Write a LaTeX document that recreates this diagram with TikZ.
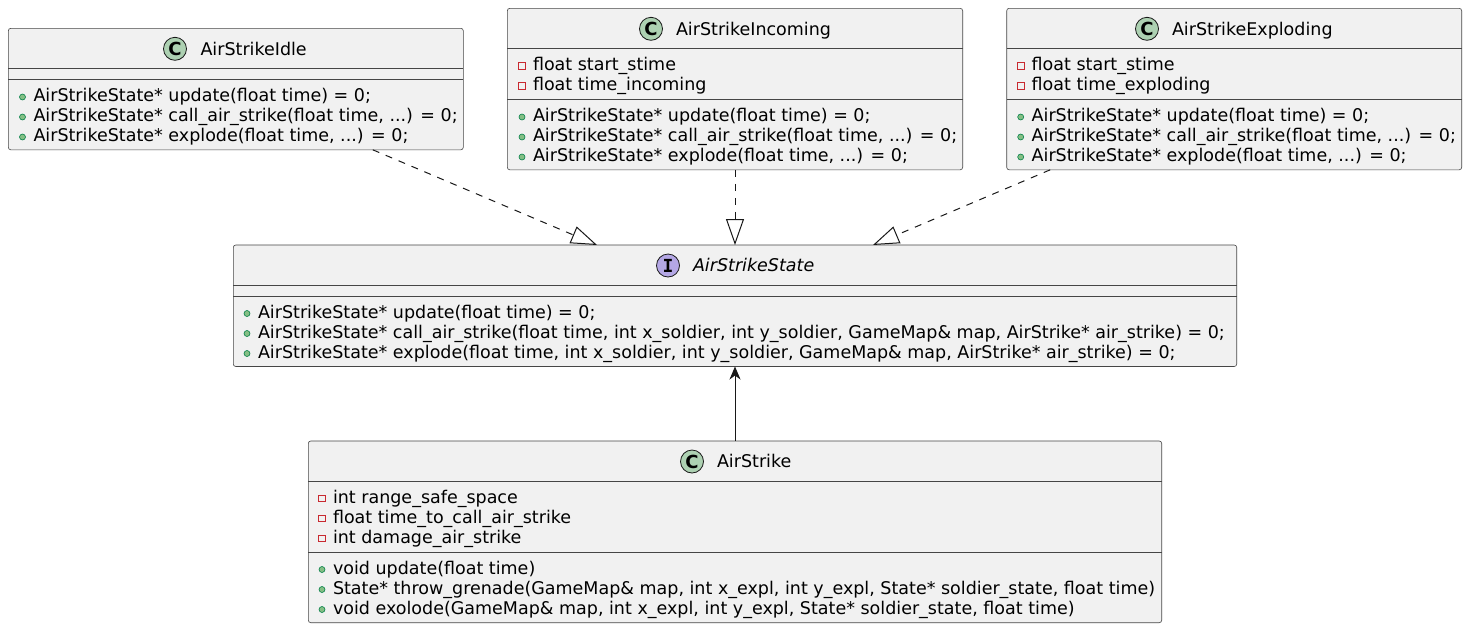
\documentclass[tikz,border=0pt]{standalone}
\usepackage{fontspec}
\setmainfont{DejaVu Sans}
\newfontfamily\monob{DejaVu Sans Mono}
\usetikzlibrary{arrows.meta}
\definecolor{boxfill}{HTML}{F1F1F1}
\definecolor{boxline}{HTML}{181818}
\definecolor{cgreen}{HTML}{ADD1B2}
\definecolor{ipurple}{HTML}{B4A7E5}
\definecolor{pubfill}{HTML}{84BE84}
\definecolor{publine}{HTML}{038048}
\definecolor{privline}{HTML}{C82930}
\newcommand\pubm[4]{\node[pubdot] (#1d) at ({#2-11},{#3-4.5}) {}; \node[member] (#1) at (#2,#3) {#4};}
\newcommand\privm[4]{\node[privsq] (#1d) at ({#2-11},{#3-4.5}) {}; \node[member] (#1) at (#2,#3) {#4};}
\tikzset{
  box/.style={draw=boxline!80, line width=0.6pt, fill=boxfill, rounded corners=2.5pt, inner sep=0pt, outer sep=0pt, anchor=north west},
  sepline/.style={draw=boxline!80, line width=0.6pt},
  member/.style={anchor=base west, inner sep=0pt, outer sep=0pt, font=\fontsize{17.5}{20}\selectfont, text=black},
  pubdot/.style={circle, minimum size=6pt, inner sep=0pt, fill=pubfill, draw=publine, line width=0.6pt},
  privsq/.style={rectangle, minimum size=6.5pt, inner sep=0pt, draw=privline, line width=0.7pt},
  cicon/.style={circle, minimum size=23pt, inner sep=0pt, fill=cgreen, draw=boxline, line width=0.8pt, font=\fontsize{18}{18}\selectfont\bfseries},
  iicon/.style={circle, minimum size=23pt, inner sep=0pt, fill=ipurple, draw=boxline, line width=0.8pt, font=\fontsize{18}{18}\selectfont\monob\bfseries},
  dep/.style={draw=boxline, line width=1pt, dash pattern=on 7pt off 7pt, -{Triangle[open, length=26pt, width=18pt]}},
  assoc/.style={draw=boxline, line width=1pt, -{Stealth[length=13pt, width=11pt, inset=4pt]}}
}
\begin{document}
\begin{tikzpicture}[x=1pt, y=-1pt]
\useasboundingbox[fill=white] (0,0) rectangle (1468,630);

% AirStrikeIdle
\node[box, minimum width=455pt, minimum height=121.5pt] (idle) at (8.3,28.3) {};
\draw[sepline] (idle.west |- 0,68.3) -- (idle.east |- 0,68.3);
\draw[sepline] (idle.west |- 0,79.3) -- (idle.east |- 0,79.3);
\node[cicon] (idleic) at (175,48.8) {C};
\node[member] (idlet) at (200.5,55) {AirStrikeIdle};
\pubm{i1}{33.5}{101.5}{AirStrikeState* update(float time) = 0;}
\pubm{i2}{33.5}{121.5}{AirStrikeState* call\_air\_strike(float time, ...) = 0;}
\pubm{i3}{33.5}{141.5}{AirStrikeState* explode(float time, ...) = 0;}

% AirStrikeIncoming
\node[box, minimum width=455.4pt, minimum height=161.5pt] (incoming) at (507.3,8.3) {};
\draw[sepline] (incoming.west |- 0,48.3) -- (incoming.east |- 0,48.3);
\draw[sepline] (incoming.west |- 0,99.3) -- (incoming.east |- 0,99.3);
\node[cicon] (incic) at (651,28.8) {C};
\node[member] (inct) at (676,35) {AirStrikeIncoming};
\privm{n1}{533}{70.3}{float start\_stime}
\privm{n2}{533}{90.3}{float time\_incoming}
\pubm{n3}{533}{121.5}{AirStrikeState* update(float time) = 0;}
\pubm{n4}{533}{141.5}{AirStrikeState* call\_air\_strike(float time, ...) = 0;}
\pubm{n5}{533}{161.5}{AirStrikeState* explode(float time, ...) = 0;}

% AirStrikeExploding
\node[box, minimum width=455pt, minimum height=161.5pt] (exploding) at (1006.7,8.3) {};
\draw[sepline] (exploding.west |- 0,48.3) -- (exploding.east |- 0,48.3);
\draw[sepline] (exploding.west |- 0,99.3) -- (exploding.east |- 0,99.3);
\node[cicon] (expic) at (1147,28.8) {C};
\node[member] (expt) at (1172,35) {AirStrikeExploding};
\privm{e1}{1031.7}{70.3}{float start\_stime}
\privm{e2}{1031.7}{90.3}{float time\_exploding}
\pubm{e3}{1031.7}{121.5}{AirStrikeState* update(float time) = 0;}
\pubm{e4}{1031.7}{141.5}{AirStrikeState* call\_air\_strike(float time, ...) = 0;}
\pubm{e5}{1031.7}{161.5}{AirStrikeState* explode(float time, ...) = 0;}

% AirStrikeState
\node[box, minimum width=1003.4pt, minimum height=121.5pt] (state) at (233.3,245) {};
\draw[sepline] (state.west |- 0,285) -- (state.east |- 0,285);
\draw[sepline] (state.west |- 0,296) -- (state.east |- 0,296);
\node[iicon] (stateic) at (668,265.5) {I};
\node[member, font=\fontsize{17.5}{20}\selectfont\itshape] (statet) at (693,271.7) {AirStrikeState};
\pubm{s1}{258}{318}{AirStrikeState* update(float time) = 0;}
\pubm{s2}{258}{338}{AirStrikeState* call\_air\_strike(float time, int x\_soldier, int y\_soldier, GameMap\& map, AirStrike* air\_strike) = 0;}
\pubm{s3}{258}{358}{AirStrikeState* explode(float time, int x\_soldier, int y\_soldier, GameMap\& map, AirStrike* air\_strike) = 0;}

% AirStrike
\node[box, minimum width=853.4pt, minimum height=181.7pt] (airstrike) at (308.3,441) {};
\draw[sepline] (airstrike.west |- 0,481) -- (airstrike.east |- 0,481);
\draw[sepline] (airstrike.west |- 0,552) -- (airstrike.east |- 0,552);
\node[cicon] (asic) at (692,461.5) {C};
\node[member] (ast) at (717,467.7) {AirStrike};
\privm{a1}{333}{503}{int range\_safe\_space}
\privm{a2}{333}{523}{float time\_to\_call\_air\_strike}
\privm{a3}{333}{543}{int damage\_air\_strike}
\pubm{a4}{333}{574}{void update(float time)}
\pubm{a5}{333}{594}{State* throw\_grenade(GameMap\& map, int x\_expl, int y\_expl, State* soldier\_state, float time)}
\pubm{a6}{333}{614}{void exolode(GameMap\& map, int x\_expl, int y\_expl, State* soldier\_state, float time)}

% connectors
\draw[dep] ([xshift=137pt]idle.south) -- ([xshift=-138pt]state.north);
\draw[dep] (incoming.south) -- (state.north);
\draw[dep] ([xshift=-184pt]exploding.south) -- ([xshift=138pt]state.north);
\draw[assoc] (airstrike.north) -- (state.south);
\end{tikzpicture}
\end{document}
